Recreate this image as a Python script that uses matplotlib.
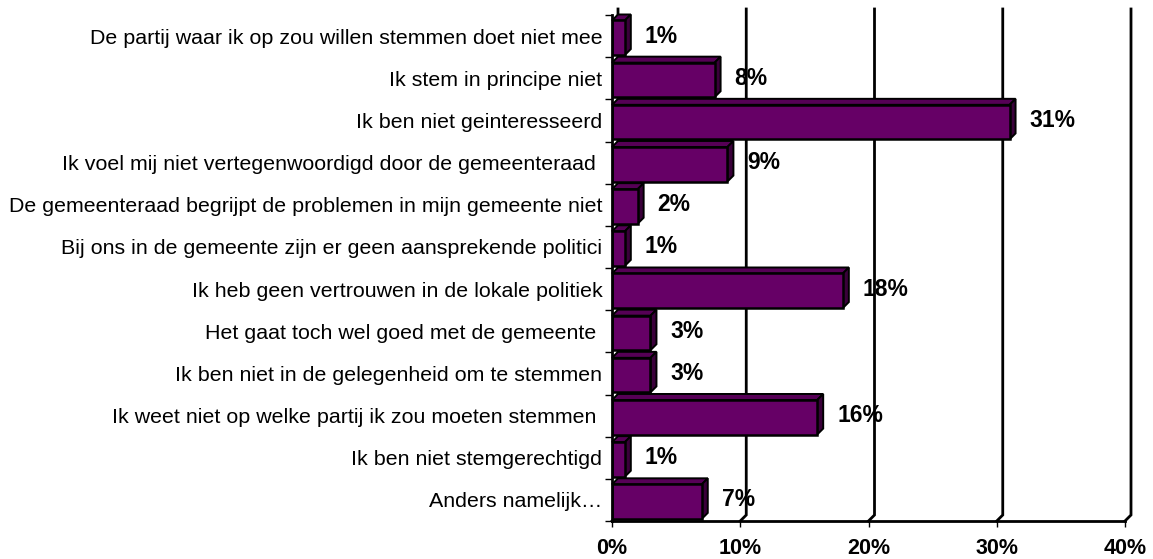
import matplotlib
matplotlib.use("Agg")
import matplotlib.pyplot as plt
from matplotlib.patches import Polygon
import numpy as np

categories = [
    "De partij waar ik op zou willen stemmen doet niet mee",
    "Ik stem in principe niet",
    "Ik ben niet geinteresseerd",
    "Ik voel mij niet vertegenwoordigd door de gemeenteraad ",
    "De gemeenteraad begrijpt de problemen in mijn gemeente niet",
    "Bij ons in de gemeente zijn er geen aansprekende politici",
    "Ik heb geen vertrouwen in de lokale politiek",
    "Het gaat toch wel goed met de gemeente ",
    "Ik ben niet in de gelegenheid om te stemmen",
    "Ik weet niet op welke partij ik zou moeten stemmen ",
    "Ik ben niet stemgerechtigd",
    "Anders namelijk\u2026",
]
values = [1, 8, 31, 9, 2, 1, 18, 3, 3, 16, 1, 7]
xticks = [0, 10, 20, 30, 40]
xticklabels = ["0%", "10%", "20%", "30%", "40%"]

plt.rcParams['font.family'] = ['Liberation Sans', 'DejaVu Sans']

W, H = 1153, 559
fig = plt.figure(figsize=(W / 100, H / 100), dpi=100)
x0, x1 = 612, 1125
y0, y1 = 15, 521
ax = fig.add_axes([x0 / W, 1 - y1 / H, (x1 - x0) / W, (y1 - y0) / H])
n = len(categories)
ax.set_xlim(0, 40)
ax.set_ylim(n - 0.5, -0.5)
for s in ax.spines.values():
    s.set_visible(False)

# depth offsets (pixels -> data units)
DPX = 6
px_per_x = (x1 - x0) / 40
px_per_y = (y1 - y0) / n
dx = DPX / px_per_x
dy = DPX / px_per_y

front = "#660066"
top = "#560056"
side = "#3a003a"
edge = "black"

# back wall gridlines with floor diagonals
for t in xticks:
    ax.plot([t + dx, t + dx, t], [-0.5 - dy, n - 0.5 - dy, n - 0.5],
            color="black", lw=2, clip_on=False, zorder=1, solid_joinstyle="miter")
# front floor edge and left axis
ax.plot([0, 40], [n - 0.5, n - 0.5], color="black", lw=2, clip_on=False, zorder=5)
ax.plot([0, 0], [-0.5, n - 0.5], color="black", lw=2, clip_on=False, zorder=5)

h = 0.82
off = 0.04
ys = np.arange(n) + off
for i, (yc, v) in enumerate(zip(ys, values)):
    yt = yc - h / 2
    yb = yc + h / 2
    ax.add_patch(Polygon([(0, yt), (v, yt), (v + dx, yt - dy), (dx, yt - dy)],
                         closed=True, facecolor=top, edgecolor=edge, lw=1.4,
                         zorder=3, clip_on=False))
    ax.add_patch(Polygon([(v, yt), (v + dx, yt - dy), (v + dx, yb - dy), (v, yb)],
                         closed=True, facecolor=side, edgecolor=edge, lw=1.4,
                         zorder=3, clip_on=False))
ax.barh(ys, values, height=h, color=front, edgecolor=edge, lw=1.8, zorder=4)

for i, v in enumerate(values):
    ax.annotate(f"{v}%", xy=(v + dx, i), xytext=(10, 0), textcoords="offset points",
                ha="left", va="center", fontsize=16.5, fontweight="bold", zorder=6)

ax.set_yticks(np.arange(n))
ax.set_yticklabels(categories, fontsize=15.4)
ax.tick_params(axis="y", which="major", length=0, pad=7)
ax.set_yticks(np.arange(n + 1) - 0.5, minor=True)
ax.tick_params(axis="y", which="minor", length=5, width=1, direction="out", color="black")
ax.set_xticks(xticks)
ax.set_xticklabels(xticklabels, fontsize=15.5, fontweight="bold")
ax.tick_params(axis="x", length=4, width=1, pad=8)

fig.savefig("out.png", dpi=100)
